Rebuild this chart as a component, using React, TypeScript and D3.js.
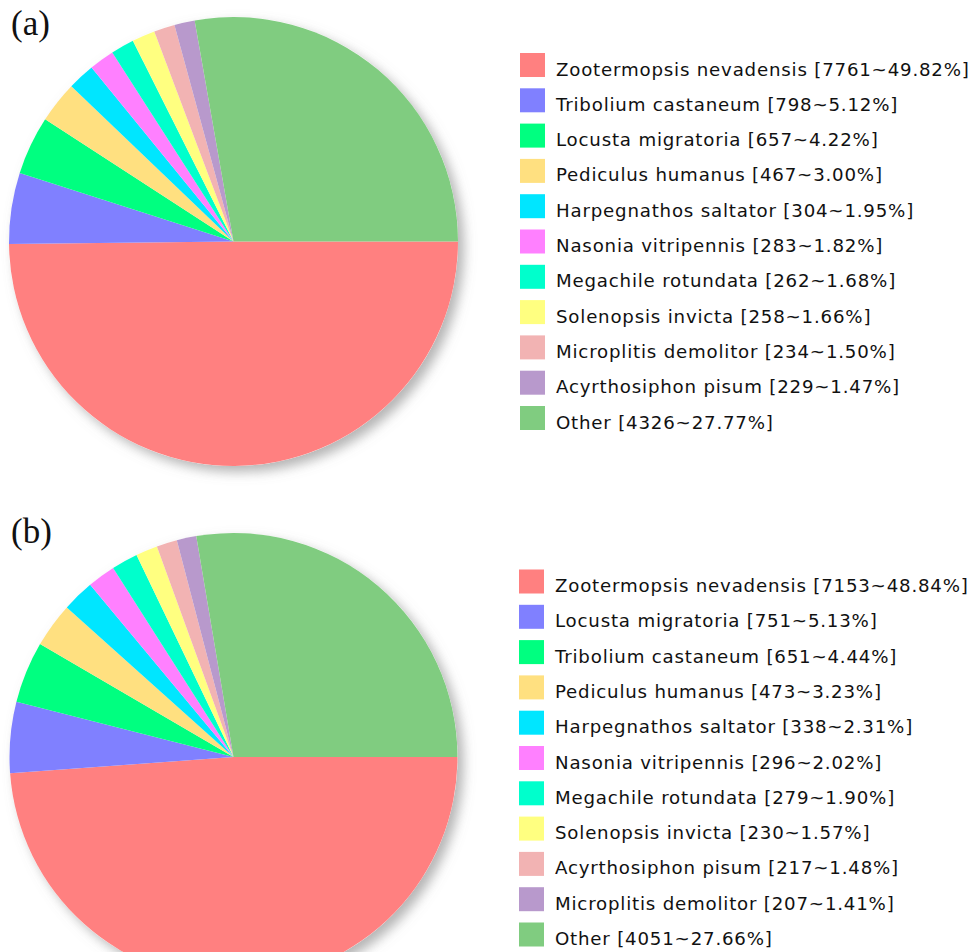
import React from "react";
import * as d3 from "d3";

// Slice colours, in slice order
const sliceColors = [
  "#FF8080", "#8080FF", "#00FF80", "#FFE080", "#00E6FF",
  "#FF80FF", "#00FFCC", "#FFFF80", "#F2B3B3", "#B899CC", "#80CC80",
];

// Panel (a)
const speciesA = [
  "Zootermopsis nevadensis", "Tribolium castaneum", "Locusta migratoria",
  "Pediculus humanus", "Harpegnathos saltator", "Nasonia vitripennis",
  "Megachile rotundata", "Solenopsis invicta", "Microplitis demolitor",
  "Acyrthosiphon pisum", "Other",
];
const countsA = [7761, 798, 657, 467, 304, 283, 262, 258, 234, 229, 4326];
const percentsA = ["49.82", "5.12", "4.22", "3.00", "1.95", "1.82", "1.68", "1.66", "1.50", "1.47", "27.77"];

// Panel (b)
const speciesB = [
  "Zootermopsis nevadensis", "Locusta migratoria", "Tribolium castaneum",
  "Pediculus humanus", "Harpegnathos saltator", "Nasonia vitripennis",
  "Megachile rotundata", "Solenopsis invicta", "Acyrthosiphon pisum",
  "Microplitis demolitor", "Other",
];
const countsB = [7153, 751, 651, 473, 338, 296, 279, 230, 217, 207, 4051];
const percentsB = ["48.84", "5.13", "4.44", "3.23", "2.31", "2.02", "1.90", "1.57", "1.48", "1.41", "27.66"];

type PanelProps = {
  label: string;
  labelY: number;
  cy: number;
  r: number;
  legendTop: number;
  legendX: number;
  names: string[];
  counts: number[];
  percents: string[];
};

const pieGen = d3
  .pie<number>()
  .sort(null)
  .value((d) => d)
  .startAngle(Math.PI / 2)
  .endAngle(Math.PI / 2 + 2 * Math.PI);

function Panel({ label, labelY, cy, r, legendTop, legendX, names, counts, percents }: PanelProps) {
  const cx = 233.5;
  const arcs = pieGen(counts);
  const arcGen = d3.arc<d3.PieArcDatum<number>>().innerRadius(0).outerRadius(r);
  const color = d3.scaleOrdinal<number, string>().domain(d3.range(counts.length)).range(sliceColors);
  const rowY = d3.scaleLinear().domain([0, 1]).range([legendTop, legendTop + 35.3]);

  return (
    <g>
      <text x={11} y={labelY} fontFamily="'Liberation Serif', 'Times New Roman', serif" fontSize={35} fill="#111">
        {label}
      </text>
      <g transform={`translate(${cx},${cy})`}>
        <circle r={r} fill="#fff" filter="url(#pieShadow)" />
        {arcs.map((a, i) => (
          <path key={i} d={arcGen(a) ?? ""} fill={color(i)} />
        ))}
      </g>
      {names.map((n, i) => (
        <g key={n} transform={`translate(0,${rowY(i)})`}>
          <rect x={legendX} y={0} width={25} height={24} fill={color(i)} />
          <text
            x={legendX + 36}
            y={22.5}
            fontFamily="'DejaVu Sans', Verdana, sans-serif"
            fontSize={18.2}
            letterSpacing={0.8}
            fill="#111"
          >
            {`${n} [${counts[i]}~${percents[i]}%]`}
          </text>
        </g>
      ))}
    </g>
  );
}

export default function App() {
  return (
    <svg width={980} height={952} style={{ position: "absolute", left: 0, top: 0, background: "#fff" }}>
      <defs>
        <filter id="pieShadow" x="-20%" y="-20%" width="150%" height="150%">
          <feDropShadow dx={6} dy={6} stdDeviation={6} floodColor="#777" floodOpacity={0.55} />
        </filter>
      </defs>
      <rect width={980} height={952} fill="#fff" />
      <Panel
        label="(a)"
        labelY={35}
        cy={241.5}
        r={224.5}
        legendTop={53}
        legendX={520}
        names={speciesA}
        counts={countsA}
        percents={percentsA}
      />
      <Panel
        label="(b)"
        labelY={543}
        cy={757}
        r={224}
        legendTop={569.5}
        legendX={519}
        names={speciesB}
        counts={countsB}
        percents={percentsB}
      />
    </svg>
  );
}
